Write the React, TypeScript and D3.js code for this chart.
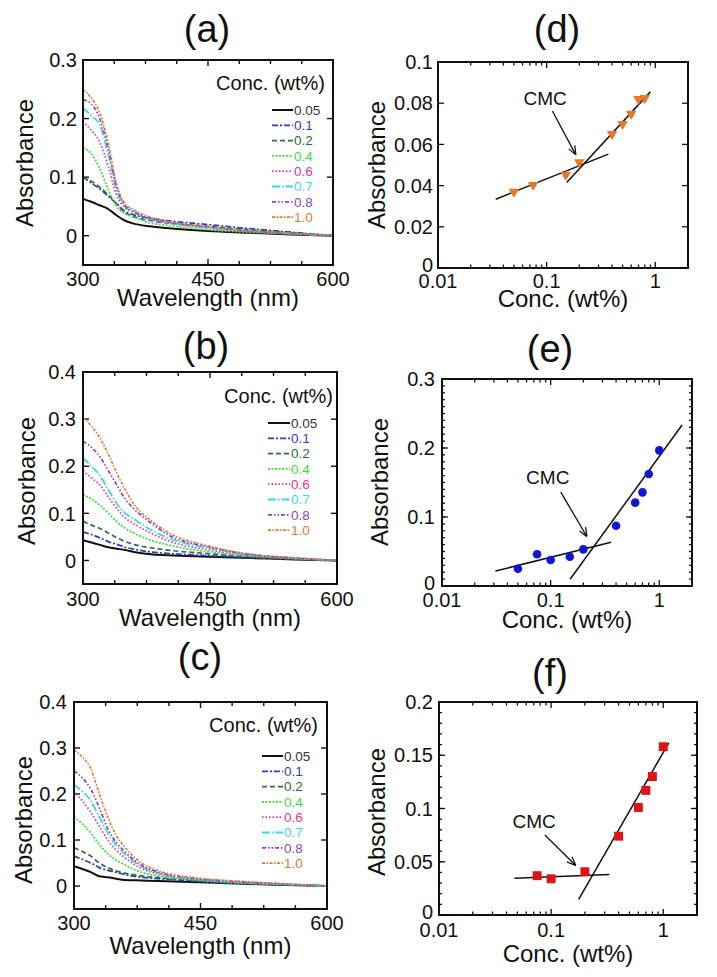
import React from 'react';
import * as d3 from 'd3';

// ---------- DATA ----------
const WAVELENGTHS = [300, 310, 320, 330, 340, 350, 360, 380, 400, 450, 500, 550, 600];
const CONC_LABELS = ['0.05', '0.1', '0.2', '0.4', '0.6', '0.7', '0.8', '1.0'];
const LINE_COLORS = ['#111111', '#2b3dc4', '#2f6b45', '#3ddc3d', '#e0369b', '#3fd4ea', '#8a3fd4', '#e07a30'];
const LINE_DASHES = ['none', '6,2,2,2', '5,3', '2,1.5', '1.5,2', '8,2,1.5,2', '4,2,1.5,2,1.5,2', '3,1.5,1.5,1.5'];
const LINE_WIDTHS = [2, 1.7, 1.7, 1.7, 1.7, 1.8, 1.7, 1.6];

// panel (a)
const SPECTRA_A = [
  [0.063, 0.058, 0.052, 0.046, 0.035, 0.026, 0.021, 0.016, 0.013, 0.008, 0.005, 0.002, 0],
  [0.1, 0.09, 0.08, 0.068, 0.055, 0.042, 0.036, 0.03, 0.026, 0.019, 0.012, 0.006, 0],
  [0.1, 0.093, 0.083, 0.07, 0.055, 0.04, 0.033, 0.026, 0.022, 0.016, 0.01, 0.005, 0],
  [0.15, 0.14, 0.115, 0.08, 0.05, 0.038, 0.032, 0.022, 0.018, 0.01, 0.006, 0.003, 0],
  [0.195, 0.18, 0.16, 0.12, 0.07, 0.048, 0.04, 0.028, 0.022, 0.013, 0.007, 0.003, 0],
  [0.218, 0.205, 0.19, 0.14, 0.08, 0.05, 0.041, 0.029, 0.023, 0.014, 0.008, 0.004, 0],
  [0.232, 0.225, 0.2, 0.15, 0.085, 0.052, 0.042, 0.03, 0.024, 0.015, 0.008, 0.004, 0],
  [0.25, 0.235, 0.21, 0.16, 0.09, 0.055, 0.045, 0.032, 0.025, 0.015, 0.008, 0.004, 0],
];
// panel (b)
const SPECTRA_B = [
  [0.043, 0.038, 0.033, 0.028, 0.025, 0.022, 0.018, 0.013, 0.011, 0.008, 0.005, 0.002, 0],
  [0.06, 0.055, 0.048, 0.04, 0.034, 0.028, 0.024, 0.018, 0.015, 0.01, 0.006, 0.003, 0],
  [0.083, 0.075, 0.068, 0.058, 0.048, 0.04, 0.034, 0.027, 0.022, 0.014, 0.007, 0.003, 0],
  [0.14, 0.13, 0.117, 0.1, 0.082, 0.068, 0.058, 0.043, 0.033, 0.018, 0.009, 0.004, 0],
  [0.19, 0.175, 0.16, 0.135, 0.11, 0.09, 0.078, 0.058, 0.042, 0.022, 0.01, 0.004, 0],
  [0.218, 0.2, 0.18, 0.15, 0.12, 0.1, 0.088, 0.065, 0.048, 0.026, 0.012, 0.005, 0],
  [0.253, 0.24, 0.22, 0.19, 0.16, 0.13, 0.11, 0.08, 0.055, 0.028, 0.012, 0.005, 0],
  [0.303, 0.285, 0.26, 0.225, 0.185, 0.15, 0.12, 0.085, 0.06, 0.03, 0.013, 0.006, 0],
];
// panel (c)
const SPECTRA_C = [
  [0.043, 0.037, 0.03, 0.021, 0.019, 0.016, 0.013, 0.012, 0.011, 0.008, 0.005, 0.002, 0],
  [0.065, 0.058, 0.05, 0.04, 0.034, 0.03, 0.025, 0.019, 0.016, 0.01, 0.006, 0.003, 0],
  [0.083, 0.075, 0.065, 0.05, 0.04, 0.033, 0.028, 0.022, 0.018, 0.011, 0.006, 0.003, 0],
  [0.15, 0.135, 0.115, 0.09, 0.07, 0.056, 0.046, 0.03, 0.022, 0.012, 0.006, 0.003, 0],
  [0.205, 0.185, 0.16, 0.13, 0.1, 0.078, 0.062, 0.038, 0.026, 0.013, 0.007, 0.003, 0],
  [0.22, 0.205, 0.185, 0.15, 0.115, 0.088, 0.07, 0.042, 0.028, 0.014, 0.008, 0.004, 0],
  [0.25, 0.235, 0.21, 0.17, 0.125, 0.095, 0.075, 0.045, 0.03, 0.015, 0.009, 0.004, 0],
  [0.296, 0.28, 0.255, 0.2, 0.15, 0.11, 0.085, 0.05, 0.033, 0.017, 0.01, 0.005, 0],
];
const WL_TICK_LABELS = [300, 450, 600];
const Y_TICKS_A = [0, 0.1, 0.2, 0.3];
const Y_TICKS_BC = [0, 0.1, 0.2, 0.3, 0.4];

// panel (d)
const CONC_D = [0.05, 0.075, 0.15, 0.2, 0.4, 0.5, 0.6, 0.7, 0.8];
const ABS_D = [0.037, 0.0403, 0.0452, 0.0513, 0.065, 0.0699, 0.0748, 0.082, 0.0825];
const FIT_D_LOW = [[0.034, 0.0334], [0.37, 0.0553]];
const FIT_D_HIGH = [[0.153, 0.0415], [0.9, 0.0855]];
const Y_TICKS_D = [0, 0.02, 0.04, 0.06, 0.08, 0.1];
const Y_LABELS_D = ['0', '0.02', '0.04', '0.06', '0.08', '0.1'];

// panel (e)
const CONC_E = [0.05, 0.075, 0.1, 0.15, 0.2, 0.4, 0.6, 0.7, 0.8, 1.0];
const ABS_E = [0.025, 0.046, 0.0377, 0.0425, 0.0531, 0.0874, 0.1208, 0.1357, 0.1623, 0.1966];
const FIT_E_LOW = [[0.031, 0.0217], [0.36, 0.0633]];
const FIT_E_HIGH = [[0.151, 0.0097], [1.62, 0.2333]];
const Y_TICKS_E = [0, 0.1, 0.2, 0.3];
const Y_LABELS_E = ['0', '0.1', '0.2', '0.3'];

// panel (f)
const CONC_F = [0.075, 0.1, 0.2, 0.4, 0.6, 0.7, 0.8, 1.0];
const ABS_F = [0.0369, 0.034, 0.0406, 0.074, 0.101, 0.117, 0.13, 0.158];
const FIT_F_LOW = [[0.047, 0.0344], [0.33, 0.038]];
const FIT_F_HIGH = [[0.176, 0.0147], [1.12, 0.1616]];
const Y_TICKS_F = [0, 0.05, 0.1, 0.15, 0.2];
const Y_LABELS_F = ['0', '0.05', '0.1', '0.15', '0.2'];

const X_TICKS_LOG = [0.01, 0.1, 1];
const X_LABELS_LOG = ['0.01', '0.1', '1'];

// CMC annotations in data units: [labelX, labelY, arrowFromX, arrowFromY, arrowToX, arrowToY]
const CMC_D = [0.097, 0.0791, 0.113, 0.0762, 0.184, 0.0553];
const CMC_E = [0.094, 0.148, 0.124, 0.136, 0.214, 0.0725];
const CMC_F = [0.0705, 0.0817, 0.088, 0.0751, 0.164, 0.047];

// ---------- STYLE ----------
const FONT = "'Liberation Sans', Arial, Helvetica, sans-serif";
const INK = '#111';

type Layout = {
  left: number; right: number; top: number; bottom: number;
  title: string; titleX: number; titleY: number;
  xTickY: number; xLabelY: number; yLabelX: number; yLabelY: number; yTickX: number;
};

type SpecLayout = Layout & { legRight: number; legTitleY: number; legY0: number; legLineX0: number; legLineX1: number; };

function Titles({ L, xLabel }: { L: Layout; xLabel: string }) {
  return (
    <g fontFamily={FONT} fill={INK}>
      <text x={L.titleX} y={L.titleY} fontSize={38} textAnchor="middle">{L.title}</text>
      <text x={(L.left + L.right) / 2} y={L.xLabelY} fontSize={24} textAnchor="middle">{xLabel}</text>
      <text transform={`translate(${L.yLabelX},${L.yLabelY}) rotate(-90)`} fontSize={24} textAnchor="middle">Absorbance</text>
    </g>
  );
}

function SpectrumPanel({ L, spectra, yTicks, yMax }: { L: SpecLayout; spectra: number[][]; yTicks: number[]; yMax: number }) {
  const x = d3.scaleLinear().domain([300, 600]).range([L.left, L.right]);
  const y = d3.scaleLinear().domain([-0.05, yMax]).range([L.bottom, L.top]);
  const line = d3.line<number>().x((_, i) => x(WAVELENGTHS[i])).y(d => y(d)).curve(d3.curveMonotoneX);
  const minorX = d3.range(300, 600.01, 37.5);
  const legStep = 15.3;
  return (
    <g>
      <g stroke={INK} strokeWidth={1.4}>
        {minorX.map((v, i) => {
          const len = WL_TICK_LABELS.includes(v) ? 6 : 4;
          return (
            <g key={i}>
              <line x1={x(v)} x2={x(v)} y1={L.bottom} y2={L.bottom - len} />
              <line x1={x(v)} x2={x(v)} y1={L.top} y2={L.top + len} />
            </g>
          );
        })}
        {yTicks.map((v, i) => (
          <g key={i}>
            <line x1={L.left} x2={L.left + 6} y1={y(v)} y2={y(v)} />
            <line x1={L.right} x2={L.right - 6} y1={y(v)} y2={y(v)} />
          </g>
        ))}
      </g>
      {spectra.map((s, i) => (
        <path key={i} d={line(s) || ''} fill="none" stroke={LINE_COLORS[i]} strokeWidth={LINE_WIDTHS[i]}
          strokeDasharray={LINE_DASHES[i]} />
      ))}
      <rect x={L.left} y={L.top} width={L.right - L.left} height={L.bottom - L.top} fill="none" stroke={INK} strokeWidth={2} />
      <g fontFamily={FONT} fontSize={20} fill={INK}>
        {WL_TICK_LABELS.map((v, i) => (
          <text key={i} x={x(v)} y={L.xTickY} textAnchor="middle">{v}</text>
        ))}
        {yTicks.map((v, i) => (
          <text key={i} x={L.yTickX} y={y(v)} dy="0.36em" textAnchor="end">{v === 0 ? '0' : String(v)}</text>
        ))}
      </g>
      <g fontFamily={FONT}>
        <text x={L.legRight} y={L.legTitleY} fontSize={20} textAnchor="end" fill={INK}>Conc. (wt%)</text>
        {CONC_LABELS.map((c, i) => {
          const yy = L.legY0 + i * legStep;
          return (
            <g key={c}>
              <line x1={L.legLineX0} x2={L.legLineX1} y1={yy} y2={yy} stroke={LINE_COLORS[i]}
                strokeWidth={LINE_WIDTHS[i]} strokeDasharray={LINE_DASHES[i]} />
              <text x={L.legLineX1 + 1} y={yy} dy="0.36em" fontSize={13.5} fill={i === 0 ? '#333' : LINE_COLORS[i]}>{c}</text>
            </g>
          );
        })}
      </g>
      <Titles L={L} xLabel="Wavelength (nm)" />
    </g>
  );
}

function CmcPanel({ L, conc, abs, fitLow, fitHigh, yMax, yTicks, yLabels, yMinor, marker, color, cmc, id }: {
  L: Layout; conc: number[]; abs: number[]; fitLow: number[][]; fitHigh: number[][]; yMax: number;
  yTicks: number[]; yLabels: string[]; yMinor: number[]; marker: 'tri' | 'circle' | 'square'; color: string; cmc: number[]; id: string;
}) {
  const x = d3.scaleLog().domain([0.01, 2]).range([L.left, L.right]);
  const y = d3.scaleLinear().domain([0, yMax]).range([L.bottom, L.top]);
  const minorX: number[] = [];
  [0.01, 0.1, 1].forEach(dec => {
    for (let k = 2; k <= 9; k++) { const v = dec * k; if (v <= 2) minorX.push(v); }
  });
  const fit = d3.line<number[]>().x(d => x(d[0])).y(d => y(d[1]));
  const tri = d3.symbol().type(d3.symbolTriangle).size(48)() || '';
  const sq = d3.symbol().type(d3.symbolSquare).size(80)() || '';
  return (
    <g>
      <defs>
        <marker id={id} viewBox="0 0 10 10" refX={9} refY={5} markerWidth={9} markerHeight={9} orient="auto" markerUnits="userSpaceOnUse">
          <path d="M0,1 L10,5 L0,9" fill="none" stroke={INK} strokeWidth={1.4} />
        </marker>
      </defs>
      <g stroke={INK} strokeWidth={1.3}>
        {minorX.map((v, i) => (
          <g key={'m' + i}>
            <line x1={x(v)} x2={x(v)} y1={L.bottom} y2={L.bottom - 3.5} />
            <line x1={x(v)} x2={x(v)} y1={L.top} y2={L.top + 3.5} />
          </g>
        ))}
        {X_TICKS_LOG.map((v, i) => (
          <g key={'M' + i}>
            <line x1={x(v)} x2={x(v)} y1={L.bottom} y2={L.bottom - 6} />
            <line x1={x(v)} x2={x(v)} y1={L.top} y2={L.top + 6} />
          </g>
        ))}
        {yMinor.map((v, i) => (
          <g key={'ym' + i}>
            <line x1={L.left} x2={L.left + 3} y1={y(v)} y2={y(v)} />
            <line x1={L.right} x2={L.right - 3} y1={y(v)} y2={y(v)} />
          </g>
        ))}
        {yTicks.map((v, i) => (
          <g key={'yM' + i}>
            <line x1={L.left} x2={L.left + 6} y1={y(v)} y2={y(v)} />
            <line x1={L.right} x2={L.right - 6} y1={y(v)} y2={y(v)} />
          </g>
        ))}
      </g>
      <path d={fit(fitLow) || ''} fill="none" stroke={INK} strokeWidth={1.5} />
      <path d={fit(fitHigh) || ''} fill="none" stroke={INK} strokeWidth={1.5} />
      {conc.map((c, i) => {
        const cx = x(c), cy = y(abs[i]);
        if (marker === 'circle') return <circle key={i} cx={cx} cy={cy} r={4.3} fill={color} />;
        if (marker === 'square') return <path key={i} d={sq} transform={`translate(${cx},${cy})`} fill={color} />;
        return <path key={i} d={tri} transform={`translate(${cx},${cy}) rotate(180)`} fill={color} />;
      })}
      <rect x={L.left} y={L.top} width={L.right - L.left} height={L.bottom - L.top} fill="none" stroke={INK} strokeWidth={2} />
      <g fontFamily={FONT} fontSize={20} fill={INK}>
        {X_TICKS_LOG.map((v, i) => (
          <text key={i} x={x(v)} y={L.xTickY} textAnchor="middle">{X_LABELS_LOG[i]}</text>
        ))}
        {yTicks.map((v, i) => (
          <text key={i} x={L.yTickX} y={y(v)} dy={i === 0 ? '0.2em' : '0.36em'} textAnchor="end">{yLabels[i]}</text>
        ))}
      </g>
      <text x={x(cmc[0])} y={y(cmc[1])} fontFamily={FONT} fontSize={19} textAnchor="middle" fill={INK}>CMC</text>
      <line x1={x(cmc[2])} y1={y(cmc[3])} x2={x(cmc[4])} y2={y(cmc[5])} stroke={INK} strokeWidth={1.3} markerEnd={`url(#${id})`} />
      <Titles L={L} xLabel="Conc. (wt%)" />
    </g>
  );
}

const LAYOUT_A: SpecLayout = { left: 83, right: 333, top: 60, bottom: 265, title: '(a)', titleX: 207, titleY: 42,
  xTickY: 286, xLabelY: 306, yLabelX: 33, yLabelY: 163, yTickX: 77,
  legRight: 325, legTitleY: 90, legY0: 110, legLineX0: 272, legLineX1: 293 };
const LAYOUT_B: SpecLayout = { left: 83, right: 337, top: 372, bottom: 584, title: '(b)', titleX: 206, titleY: 359,
  xTickY: 606, xLabelY: 626, yLabelX: 35, yLabelY: 481, yTickX: 76,
  legRight: 333, legTitleY: 403, legY0: 423, legLineX0: 268, legLineX1: 290 };
const LAYOUT_C: SpecLayout = { left: 74, right: 327, top: 702, bottom: 909, title: '(c)', titleX: 200, titleY: 670,
  xTickY: 930, xLabelY: 954, yLabelX: 32, yLabelY: 820, yTickX: 67,
  legRight: 318, legTitleY: 732, legY0: 756, legLineX0: 262, legLineX1: 283 };
const LAYOUT_D: Layout = { left: 438, right: 688, top: 62, bottom: 268, title: '(d)', titleX: 557, titleY: 42,
  xTickY: 288, xLabelY: 307, yLabelX: 385, yLabelY: 165, yTickX: 433 };
const LAYOUT_E: Layout = { left: 442, right: 692, top: 379, bottom: 586, title: '(e)', titleX: 550, titleY: 362,
  xTickY: 607, xLabelY: 628, yLabelX: 388, yLabelY: 482, yTickX: 435 };
const LAYOUT_F: Layout = { left: 439, right: 697, top: 702, bottom: 915, title: '(f)', titleX: 550, titleY: 686,
  xTickY: 937, xLabelY: 962, yLabelX: 385, yLabelY: 812, yTickX: 433 };

export default function App() {
  const minorE = d3.range(0, 0.3001, 0.01);
  const minorF = d3.range(0, 0.2001, 0.01);
  return (
    <svg width={717} height={977} style={{ position: 'absolute', left: 0, top: 0, background: '#fff' }}>
      <rect x={0} y={0} width={717} height={977} fill="#fff" />
      <SpectrumPanel L={LAYOUT_A} spectra={SPECTRA_A} yTicks={Y_TICKS_A} yMax={0.3} />
      <SpectrumPanel L={LAYOUT_B} spectra={SPECTRA_B} yTicks={Y_TICKS_BC} yMax={0.4} />
      <SpectrumPanel L={LAYOUT_C} spectra={SPECTRA_C} yTicks={Y_TICKS_BC} yMax={0.4} />
      <CmcPanel L={LAYOUT_D} conc={CONC_D} abs={ABS_D} fitLow={FIT_D_LOW} fitHigh={FIT_D_HIGH} yMax={0.1}
        yTicks={Y_TICKS_D} yLabels={Y_LABELS_D} yMinor={[]} marker="tri" color="#e8772a" cmc={CMC_D} id="arrD" />
      <CmcPanel L={LAYOUT_E} conc={CONC_E} abs={ABS_E} fitLow={FIT_E_LOW} fitHigh={FIT_E_HIGH} yMax={0.3}
        yTicks={Y_TICKS_E} yLabels={Y_LABELS_E} yMinor={minorE} marker="circle" color="#1414d6" cmc={CMC_E} id="arrE" />
      <CmcPanel L={LAYOUT_F} conc={CONC_F} abs={ABS_F} fitLow={FIT_F_LOW} fitHigh={FIT_F_HIGH} yMax={0.2}
        yTicks={Y_TICKS_F} yLabels={Y_LABELS_F} yMinor={minorF} marker="square" color="#dd1414" cmc={CMC_F} id="arrF" />
    </svg>
  );
}
